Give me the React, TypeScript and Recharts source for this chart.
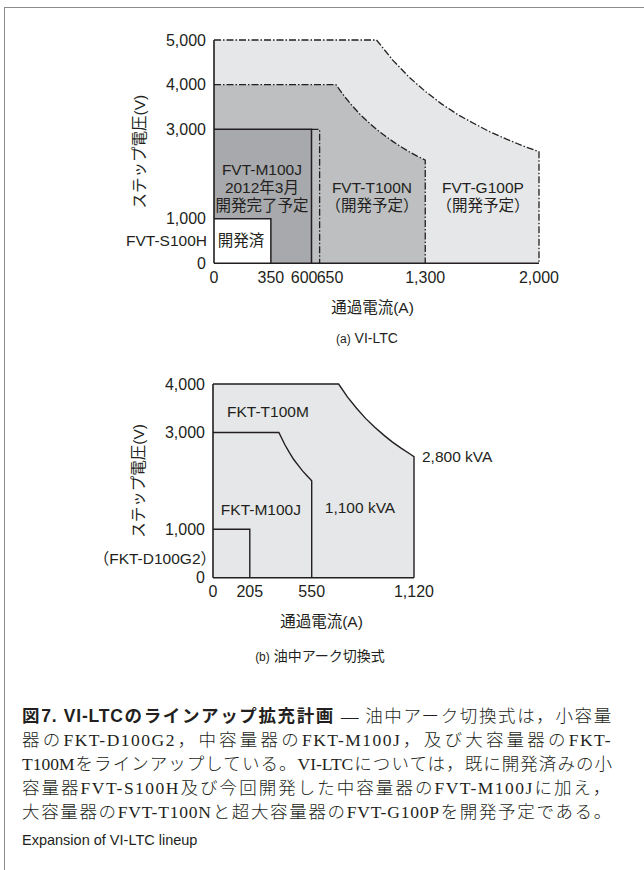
import React from 'react';
import { ComposedChart, Area, Line, XAxis, YAxis, ReferenceDot } from 'recharts';

const FONT = "'Liberation Sans', Arial, 'Noto Sans CJK JP', sans-serif";
const SERIF = "'Liberation Serif', 'Noto Sans CJK JP', serif";
const INK = '#231f20';
const DASH_DOT = '7 2 1.5 2';

// (a) VI-LTC : current (A) vs step voltage (V)
const vltcCurrentTicks = [0, 350, 600, 650, 1300, 2000];
const vltcVoltageTicks = [0, 1000, 3000, 4000, 5000];
const g100p = [
  { a: 0, v: 5000 }, { a: 1000, v: 5000 }, { a: 1100, v: 4550 }, { a: 1200, v: 4170 },
  { a: 1300, v: 3850 }, { a: 1400, v: 3570 }, { a: 1500, v: 3330 }, { a: 1600, v: 3130 },
  { a: 1700, v: 2940 }, { a: 1800, v: 2780 }, { a: 1900, v: 2630 }, { a: 2000, v: 2500 },
  { a: 2000, v: 0 },
];
const t100n = [
  { a: 0, v: 4000 }, { a: 750, v: 4000 }, { a: 800, v: 3750 }, { a: 850, v: 3530 },
  { a: 900, v: 3330 }, { a: 950, v: 3160 }, { a: 1000, v: 3000 }, { a: 1050, v: 2860 },
  { a: 1100, v: 2730 }, { a: 1150, v: 2610 }, { a: 1200, v: 2500 }, { a: 1250, v: 2400 },
  { a: 1300, v: 2310 }, { a: 1300, v: 0 },
];
const t100nStep = [{ a: 600, v: 3000 }, { a: 650, v: 3000 }, { a: 650, v: 0 }];
const m100j = [{ a: 0, v: 3000 }, { a: 600, v: 3000 }, { a: 600, v: 0 }];
const s100h = [{ a: 0, v: 1000 }, { a: 350, v: 1000 }, { a: 350, v: 0 }];
const vltcNotes = [
  { text: 'FVT-M100J', a: 295, v: 2090 },
  { text: '2012年3月', a: 295, v: 1690 },
  { text: '開発完了予定', a: 295, v: 1300 },
  { text: 'FVT-T100N', a: 972, v: 1690 },
  { text: '（開発予定）', a: 972, v: 1300 },
  { text: 'FVT-G100P', a: 1655, v: 1690 },
  { text: '（開発予定）', a: 1655, v: 1300 },
  { text: '開発済', a: 166, v: 500 },
  { text: 'FVT-S100H', a: 0, v: 500, pos: 'left', off: 6 },
];

// (b) 油中アーク切換式
const oilCurrentTicks = [0, 205, 550, 1120];
const oilVoltageTicks = [0, 1000, 3000, 4000];
const t100m = [
  { a: 0, v: 4000 }, { a: 700, v: 4000 }, { a: 750, v: 3730 }, { a: 800, v: 3500 },
  { a: 850, v: 3290 }, { a: 900, v: 3110 }, { a: 950, v: 2950 }, { a: 1000, v: 2800 },
  { a: 1050, v: 2670 }, { a: 1100, v: 2550 }, { a: 1120, v: 2500 }, { a: 1120, v: 0 },
];
const m100jOil = [
  { a: 0, v: 3000 }, { a: 367, v: 3000 }, { a: 400, v: 2750 }, { a: 425, v: 2590 },
  { a: 450, v: 2440 }, { a: 475, v: 2320 }, { a: 500, v: 2200 }, { a: 525, v: 2100 },
  { a: 550, v: 2000 }, { a: 550, v: 0 },
];
const d100g2 = [{ a: 0, v: 1000 }, { a: 205, v: 1000 }, { a: 205, v: 0 }];
const oilNotes = [
  { text: 'FKT-T100M', a: 306, v: 3440 },
  { text: 'FKT-M100J', a: 267, v: 1400 },
  { text: '1,100 kVA', a: 819, v: 1460 },
  { text: '2,800 kVA', a: 1120, v: 2500, pos: 'right', off: 7 },
  { text: '（FKT-D100G2）', a: 0, v: 390, pos: 'left', off: -4 },
];

const captionTitle = '図7. VI-LTCのラインアップ拡充計画';
const captionLead = ' — 油中アーク切換式は，小容量';
const captionLines = [
  '器のFKT-D100G2，中容量器のFKT-M100J，及び大容量器のFKT-',
  'T100Mをラインアップしている。VI-LTCについては，既に開発済みの小',
  '容量器FVT-S100H及び今回開発した中容量器のFVT-M100Jに加え，',
  '大容量器のFVT-T100Nと超大容量器のFVT-G100Pを開発予定である。',
];
const captionEnglish = 'Expansion of VI-LTC lineup';
// letter spacing per caption line (px), first entry is the title line
const captionTracking = [0.8, 1.5, 0, 1.5, 0.8];

const fmt = (v: number) => v.toLocaleString('en-US');

const VltcTick = (props: any) => {
  const { x, y, payload } = props;
  const v = payload.value;
  let anchor = 'middle';
  let dx = 0;
  if (v === 600) { anchor = 'end'; dx = 6; }
  if (v === 650) { anchor = 'start'; dx = -3; }
  return (
    <text x={x + dx} y={y} dy="0.72em" textAnchor={anchor} fill={INK} fontSize={16} fontFamily={FONT}>
      {fmt(v)}
    </text>
  );
};

const yTitle = (props: any) => {
  const { x, y, height } = props.viewBox;
  const cx = x - 4;
  const cy = y + height / 2;
  return (
    <text x={cx} y={cy} transform={`rotate(-90 ${cx} ${cy})`} textAnchor="middle" dominantBaseline="central"
      fill={INK} fontSize={15.5} fontFamily={FONT}>ステップ電圧(V)</text>
  );
};

const xTitle = (shift: number) => (props: any) => {
  const { x, y, width } = props.viewBox;
  return (
    <text x={x + width / 2 + shift} y={y + 44} textAnchor="middle" dominantBaseline="central"
      fill={INK} fontSize={15.5} fontFamily={FONT}>通過電流(A)</text>
  );
};

const renderNote = (n: any, i: number) => (
  <ReferenceDot key={i} x={n.a} y={n.v} r={1} fill="none" stroke="none"
    label={{ value: n.text, position: n.pos ?? 'center', offset: n.off ?? 5, fill: INK, fontSize: 15.5, fontFamily: FONT }} />
);

const tickStyle = { fill: INK, fontSize: 16, fontFamily: FONT };
const axisStroke = { stroke: INK, strokeWidth: 1.6 };

function VltcChart() {
  return (
    <ComposedChart width={644} height={330} margin={{ top: 40, right: 105, left: 144, bottom: 36.7 }}>
      <Area data={g100p} dataKey="v" type="linear" fill="#e6e7e8" fillOpacity={1} stroke={INK}
        strokeWidth={1.3} strokeDasharray={DASH_DOT} dot={false} activeDot={false} isAnimationActive={false} />
      <Area data={t100n} dataKey="v" type="linear" fill="#bdbfc1" fillOpacity={1} stroke={INK}
        strokeWidth={1.3} strokeDasharray={DASH_DOT} dot={false} activeDot={false} isAnimationActive={false} />
      <Line data={t100nStep} dataKey="v" type="linear" stroke={INK} strokeWidth={1.3}
        strokeDasharray={DASH_DOT} dot={false} activeDot={false} isAnimationActive={false} />
      <Area data={m100j} dataKey="v" type="linear" fill="#a7a9ac" fillOpacity={1} stroke={INK}
        strokeWidth={1.5} dot={false} activeDot={false} isAnimationActive={false} />
      <Area data={s100h} dataKey="v" type="linear" fill="#ffffff" fillOpacity={1} stroke={INK}
        strokeWidth={1.5} dot={false} activeDot={false} isAnimationActive={false} />
      <XAxis dataKey="a" type="number" domain={[0, 2000]} ticks={vltcCurrentTicks} interval={0}
        height={30} tickLine={false} axisLine={axisStroke} tick={<VltcTick />} label={{ content: xTitle(-4) }} />
      <YAxis type="number" domain={[0, 5000]} ticks={vltcVoltageTicks} interval={0} width={70}
        tickLine={false} axisLine={axisStroke} tick={tickStyle} tickFormatter={fmt} label={{ content: yTitle }} />
      {vltcNotes.map(renderNote)}
    </ComposedChart>
  );
}

function OilChart() {
  return (
    <ComposedChart width={644} height={300} margin={{ top: 34, right: 230, left: 143, bottom: 42.3 }}>
      <Area data={t100m} dataKey="v" type="linear" fill="#e6e7e8" fillOpacity={1} stroke={INK}
        strokeWidth={1.4} dot={false} activeDot={false} isAnimationActive={false} />
      <Line data={m100jOil} dataKey="v" type="linear" stroke={INK} strokeWidth={1.4}
        dot={false} activeDot={false} isAnimationActive={false} />
      <Line data={d100g2} dataKey="v" type="linear" stroke={INK} strokeWidth={1.4}
        dot={false} activeDot={false} isAnimationActive={false} />
      <XAxis dataKey="a" type="number" domain={[0, 1120]} ticks={oilCurrentTicks} interval={0}
        height={30} tickLine={false} axisLine={axisStroke} tick={tickStyle} tickFormatter={fmt}
        label={{ content: xTitle(8) }} />
      <YAxis type="number" domain={[0, 4000]} ticks={oilVoltageTicks} interval={0} width={70}
        tickLine={false} axisLine={axisStroke} tick={tickStyle} tickFormatter={fmt} label={{ content: yTitle }} />
      {oilNotes.map(renderNote)}
    </ComposedChart>
  );
}

const lineStyle: React.CSSProperties = {
  height: 24, lineHeight: '24px', textAlign: 'justify', textAlignLast: 'justify',
  fontFamily: SERIF, fontSize: 17.5, color: INK, fontWeight: 300,
};

const subStyle: React.CSSProperties = {
  position: 'absolute', width: 240, textAlign: 'center', lineHeight: '18px',
  fontFamily: FONT, fontSize: 14, color: INK,
};

export default function App() {
  return (
    <div style={{ position: 'absolute', left: 0, top: 0, width: 644, height: 870, background: '#fff', overflow: 'hidden' }}>
      <div style={{ position: 'absolute', left: 4, top: 7, width: 640, height: 863, borderTop: '1px solid #8c8c8c', borderLeft: '1px solid #8c8c8c' }} />
      <div style={{ position: 'absolute', left: 0, top: 0 }}>
        <VltcChart />
      </div>
      <div style={{ ...subStyle, left: 247, top: 329 }}>
        <span style={{ fontSize: 12 }}>(a)</span> VI-LTC
      </div>
      <div style={{ position: 'absolute', left: 0, top: 350 }}>
        <OilChart />
      </div>
      <div style={{ ...subStyle, left: 200, top: 647 }}>
        <span style={{ fontSize: 12 }}>(b)</span> 油中アーク切換式
      </div>
      <div style={{ position: 'absolute', left: 22, top: 704, width: 590 }}>
        <div style={{ ...lineStyle, letterSpacing: captionTracking[0] }}>
          <span style={{ fontFamily: FONT, fontWeight: 700, fontSize: 17.5 }}>{captionTitle}</span>
          {captionLead}
        </div>
        {captionLines.map((l, i) => (
          <div key={i} style={{ ...lineStyle, letterSpacing: captionTracking[i + 1] }}>{l}</div>
        ))}
        <div style={{ marginTop: 6, fontFamily: FONT, fontSize: 14.5, color: INK, lineHeight: '20px' }}>{captionEnglish}</div>
      </div>
    </div>
  );
}
